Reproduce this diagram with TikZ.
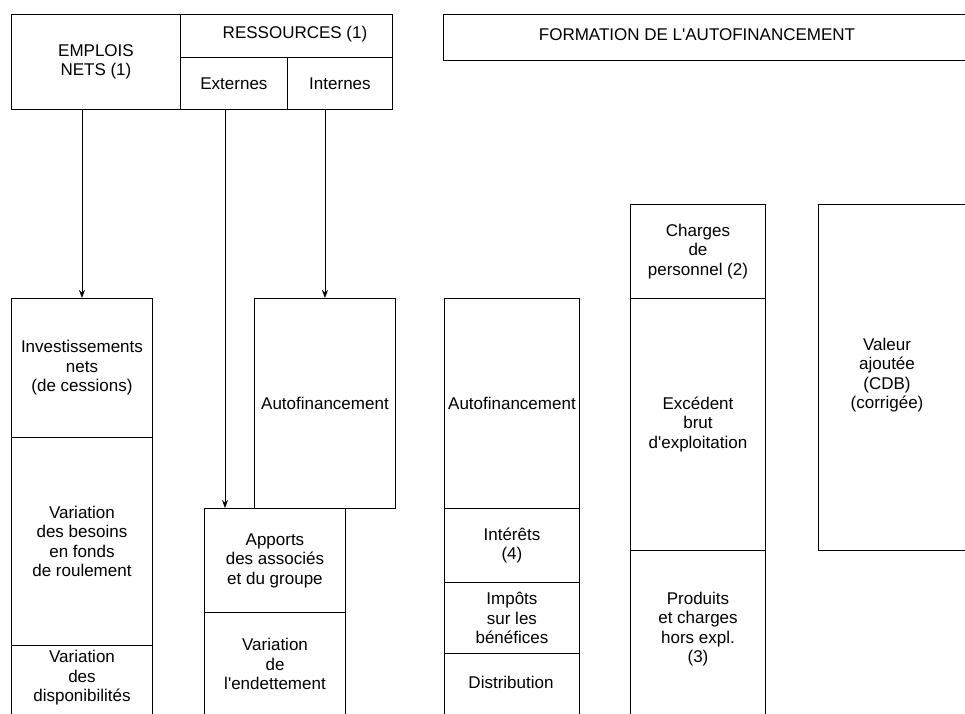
\documentclass[tikz,border=0pt]{standalone}
\usepackage{fontspec}
\setmainfont{Liberation Sans}
\usetikzlibrary{arrows.meta}
\begin{document}
\begin{tikzpicture}[x=1pt,y=-1pt,
  lbl/.style={font=\fontsize{17}{19.5}\selectfont},
  cell/.style={draw, line width=0.9pt, inner sep=0pt, anchor=north west, align=center, lbl},
  txt/.style={inner sep=0pt, align=center, lbl},
  arr/.style={line width=0.9pt, -{Stealth[length=8pt,width=6pt]}}]

\useasboundingbox (0,0) rectangle (965,713);
\clip (0,0) rectangle (965,713);

% --- header: uses and resources ---
\node[cell, minimum width=169pt, minimum height=95pt] (emplois) at (11,14) {EMPLOIS\\NETS (1)};
\node[cell, minimum width=212pt, minimum height=43pt] (ressources) at (180,14) {};
\node[txt] (ressourcest) at (295,34) {RESSOURCES (1)};
\node[cell, minimum width=107pt, minimum height=52pt] (externes) at (180,57) {Externes};
\node[cell, minimum width=105pt, minimum height=52pt] (internes) at (287,57) {Internes};

% --- header: formation of self-financing ---
\node[cell, minimum width=540pt, minimum height=46pt] (formation) at (443,14) {};
\node[txt] (formationt) at (697,35) {FORMATION DE L\textquotesingle AUTOFINANCEMENT};

% --- net uses column ---
\node[cell, minimum width=141pt, minimum height=139pt] (inv) at (11,298) {Investissements\\nets\\(de cessions)};
\node[cell, minimum width=141pt, minimum height=208pt] (bfr) at (11,437) {Variation\\des besoins\\en fonds\\de roulement};
\node[cell, minimum width=141pt, minimum height=90pt] (dispo) at (11,645) {};
\node[txt] (dispot) at (82,678) {Variation\\des\\disponibilités};

% --- resources column ---
\node[cell, minimum width=141pt, minimum height=210pt] (autof1) at (254,298) {Autofinancement};
\node[cell, minimum width=141pt, minimum height=104pt] (apports) at (204,508) {Apports\\des associés\\et du groupe};
\node[cell, minimum width=141pt, minimum height=120pt] (endet) at (204,612) {};
\node[txt] (endett) at (275,664) {Variation\\de\\l\textquotesingle endettement};

% --- formation: distribution of gross operating surplus ---
\node[cell, minimum width=135pt, minimum height=210pt] (autof2) at (444,298) {Autofinancement};
\node[cell, minimum width=135pt, minimum height=74pt] (interets) at (444,508) {Intérêts\\(4)};
\node[cell, minimum width=135pt, minimum height=71pt] (impots) at (444,582) {Impôts\\sur les\\bénéfices};
\node[cell, minimum width=135pt, minimum height=80pt] (distr) at (444,653) {};
\node[txt] (distrt) at (511,682) {Distribution};

% --- formation: value added split ---
\node[cell, minimum width=135pt, minimum height=94pt] (charges) at (630,204) {Charges\\de\\personnel (2)};
\node[cell, minimum width=135pt, minimum height=252pt] (ebe) at (630,298) {Excédent\\brut\\d\textquotesingle exploitation};
\node[cell, minimum width=135pt, minimum height=180pt] (produits) at (630,550) {};
\node[txt] (produitst) at (698,629) {Produits\\et charges\\hors expl.\\(3)};

\node[cell, minimum width=170pt, minimum height=346pt] (va) at (818,204) {};
\node[txt] (vat) at (887,375) {Valeur\\ajoutée\\(CDB)\\(corrigée)};

% --- arrows from the header ---
\draw[arr] (inv.north |- emplois.south) -- (inv.north);
\coordinate (apin) at (225,508);
\draw[arr] (apin |- externes.south) -- (apin);
\draw[arr] (autof1.north |- internes.south) -- (autof1.north);
\end{tikzpicture}
\end{document}
